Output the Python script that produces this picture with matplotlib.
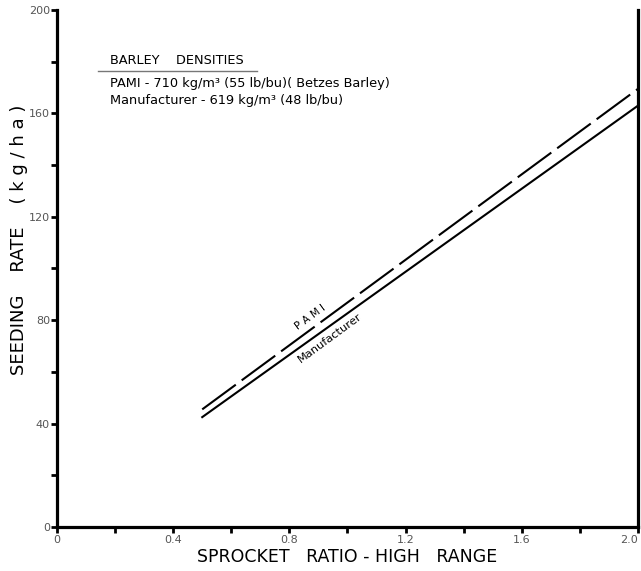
import matplotlib
matplotlib.use("Agg")
import matplotlib.pyplot as plt
import numpy as np

# Data
x_vals = [0.5, 2.0]
pami_rate = [45.5, 169.5]
manufacturer_rate = [42.5, 163.0]
x_ticks_major = [0, 0.4, 0.8, 1.2, 1.6, 2.0]
x_tick_labels = ["0", "0.4", "0.8", "1.2", "1.6", "2.0"]
y_ticks_major = [0, 40, 80, 120, 160, 200]
y_tick_labels = ["0", "40", "80", "120", "160", "200"]

fig = plt.figure(figsize=(6.41, 5.71), dpi=100)
ax = fig.add_axes([0.0889, 0.0771, 0.9064, 0.9054])
ax.set_xlim(0, 2.0)
ax.set_ylim(0, 200)

ax.plot(x_vals, pami_rate, color="black", lw=1.5, dashes=(20, 3.5), solid_capstyle="butt")
ax.plot(x_vals, manufacturer_rate, color="black", lw=1.5)

for s in ["left", "bottom", "right"]:
    ax.spines[s].set_linewidth(2.3)
ax.spines["top"].set_visible(False)

ax.set_xticks(x_ticks_major)
ax.set_xticklabels(x_tick_labels)
ax.set_xticks(np.arange(0.2, 2.0, 0.4), minor=True)
ax.set_yticks(y_ticks_major)
ax.set_yticklabels(y_tick_labels)
ax.set_yticks(np.arange(20, 200, 40), minor=True)
ax.tick_params(which="both", direction="out", length=4, width=2, colors="black",
               labelcolor="#555555", labelsize=8)
ax.tick_params(axis="y", which="both", right=False, pad=1)
ax.tick_params(axis="x", which="both", pad=2)
ax.get_xticklabels()[-1].set_horizontalalignment("right")

ax.set_xlabel("SPROCKET   RATIO - HIGH   RANGE", fontsize=12.5, labelpad=2)
fig.text(0.03, 0.58, "SEEDING    RATE    ( k g / h a )", rotation=90, fontsize=13,
         ha="center", va="center")

# Legend block
ax.text(0.183, 180.3, "BARLEY    DENSITIES", fontsize=9.3, ha="left", va="center")
ax.plot([0.141, 0.69], [176.5, 176.5], color="#777777", lw=1)
ax.text(0.183, 171.4, "PAMI - 710 kg/m³ (55 lb/bu)( Betzes Barley)", fontsize=9.3, va="center")
ax.text(0.183, 164.8, "Manufacturer - 619 kg/m³ (48 lb/bu)", fontsize=9.3, va="center")

ang = 36.3
ax.text(0.872, 81.2, "P A M I", fontsize=7.5, rotation=ang, ha="center", va="center")
ax.text(0.941, 73.1, "Manufacturer", fontsize=8.2, rotation=ang, ha="center", va="center")

fig.savefig("out.png", dpi=100)
